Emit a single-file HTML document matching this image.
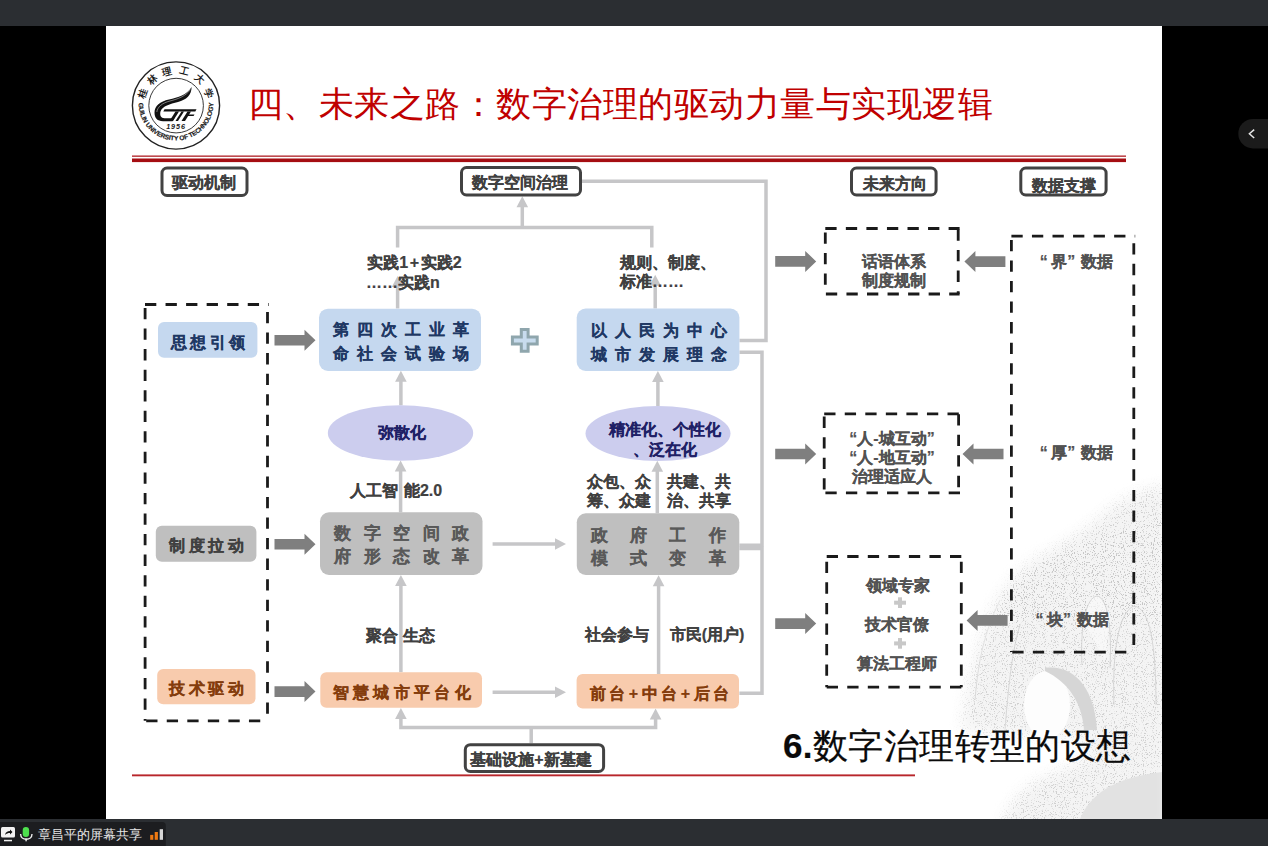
<!DOCTYPE html>
<html><head><meta charset="utf-8">
<style>
html,body{margin:0;padding:0;width:1268px;height:846px;overflow:hidden;background:#000;font-family:"Liberation Sans",sans-serif;}
.a{position:absolute;}
#top{left:0;top:0;width:1268px;height:26px;background:#2b2e32;}
#bot{left:0;top:819px;width:1268px;height:27px;background:#2b2e32;}
#slide{left:106px;top:26px;width:1056px;height:793px;background:#fff;}
svg{position:absolute;left:0;top:0;}
.t{position:absolute;white-space:nowrap;font-weight:bold;}
.q1{margin-right:3.5px}.q2{margin-right:5.5px}
.t{-webkit-text-stroke:0.2px currentColor}
.ttl{-webkit-text-stroke:0}
.bl{position:absolute;left:38px;top:826px;font-size:13px;line-height:18px;color:#e6e6e6;white-space:nowrap}
</style></head><body>
<div class="a" id="top"></div>
<div class="a" id="slide"></div>
<div class="a" id="bot"></div>
<svg width="1268" height="846" viewBox="0 0 1268 846">
  <!-- background sketch -->
  <defs>
    <filter id="spk" x="0" y="0" width="100%" height="100%">
      <feTurbulence type="fractalNoise" baseFrequency="0.9" numOctaves="2" seed="3" result="n"/>
      <feColorMatrix in="n" type="matrix" values="0 0 0 0 0.45  0 0 0 0 0.45  0 0 0 0 0.45  -9 0 0 0 3.8" result="d"/>
      <feComposite in="d" in2="SourceGraphic" operator="in"/>
    </filter>
    <filter id="blr" x="-20%" y="-20%" width="140%" height="140%"><feGaussianBlur stdDeviation="7"/></filter>
    <mask id="rockm" maskUnits="userSpaceOnUse" x="900" y="440" width="300" height="400">
      <g filter="url(#blr)" fill="#fff">
        <path d="M962,730 C966,690 975,650 990,615 C1000,592 1015,572 1040,556 C1065,543 1090,528 1110,508 C1130,495 1150,488 1170,484 L1170,830 L1090,830 L1090,740 C1060,735 1000,736 962,730 Z"/>
        <path d="M1000,830 C1008,800 1030,778 1065,770 C1090,752 1125,745 1170,748 L1170,830 Z"/>
      </g>
    </mask>
  </defs>
  <g id="sketch" mask="url(#rockm)">
    <rect x="940" y="470" width="222" height="349" fill="#f4f4f4"/>
    <rect x="940" y="470" width="222" height="349" fill="#000" filter="url(#spk)" opacity="0.55"/>
    <path d="M1000,600 C1030,560 1080,540 1162,520 L1162,625 C1120,615 1070,612 1000,625 Z" fill="#000" filter="url(#spk)" opacity="0.35"/>
    <path d="M1085,625 C1085,600 1095,590 1103,600 C1110,615 1108,640 1105,660 Z" fill="#fafafa" opacity="0.7"/>
    <g fill="none" stroke="#cfcfcf" stroke-width="1" opacity="0.8">
      <path d="M1082,665 C1080,625 1086,598 1097,596 C1108,598 1112,628 1110,668"/>
      <path d="M1114,705 C1112,655 1118,612 1134,606 C1150,608 1156,645 1156,705"/>
      <path d="M975,700 C978,660 985,630 1000,600"/>
      <path d="M1005,730 C1008,690 1012,650 1020,625"/>
    </g>
    <ellipse cx="1047" cy="705" rx="23" ry="34" fill="#fdfdfd"/>
    <path d="M1045,668 C1075,664 1095,690 1097,730 L1084,730 C1082,702 1068,682 1045,671 Z" fill="#d6d6d6"/>
    <path d="M1080,819 C1090,795 1112,778 1162,772 L1162,819 Z" fill="#e2e2e2"/>
  </g>
  <!-- red double line -->
  <rect x="132" y="155.5" width="994" height="1.3" fill="#b01e24"/>
  <rect x="132" y="158.5" width="994" height="3.6" fill="#a50d12"/>
  <rect x="132" y="774.4" width="783" height="1.9" fill="#b8262b"/>

  <!-- gray connectors -->
  <g stroke="#c6c6c8" stroke-width="3.5" fill="none">
    <polyline points="582,181.3 766,181.3 766,340.4 739.4,340.4"/>
    <polyline points="739.4,352.3 762,352.3 762,545.3 739.4,545.3"/>
    <polyline points="739.4,548.5 762,548.5 762,693.3 739.4,693.3"/>
    <polyline points="397.6,247.5 397.6,227.4 651.8,227.4 651.8,247.6"/>
    <line x1="522.3" y1="227.4" x2="522.3" y2="205"/>
    <line x1="397.6" y1="308.5" x2="397.6" y2="285"/>
    <line x1="655.2" y1="308.5" x2="655.2" y2="284"/>
    <line x1="400.9" y1="405.4" x2="400.9" y2="380"/>
    <line x1="657.9" y1="406" x2="657.9" y2="380"/>
    <line x1="400.6" y1="512.3" x2="400.6" y2="470"/>
    <line x1="657.3" y1="513.3" x2="657.3" y2="470"/>
    <line x1="400.9" y1="672.2" x2="400.9" y2="584"/>
    <line x1="658.6" y1="674" x2="658.6" y2="584"/>
    <line x1="492.6" y1="544" x2="556" y2="544"/>
    <line x1="492.6" y1="692.2" x2="556" y2="692.2"/>
    <polyline points="400.9,718 400.9,727.5 655.6,727.5 655.6,718"/>
    <line x1="531.2" y1="727.5" x2="531.2" y2="743.2"/>
  </g>
  <g fill="#c6c6c8">
    <polygon points="522.3,196.3 516.5,207.3 528.1,207.3"/>
    <polygon points="397.6,276 391.8,287 403.4,287"/>
    <polygon points="655.2,274.8 649.4,285.8 661.0,285.8"/>
    <polygon points="400.9,370.8 395.1,381.8 406.7,381.8"/>
    <polygon points="657.9,371 652.1,382 663.7,382"/>
    <polygon points="400.6,460.5 394.8,471.5 406.4,471.5"/>
    <polygon points="657.3,460.8 651.5,471.8 663.1,471.8"/>
    <polygon points="400.9,575 395.1,586 406.7,586"/>
    <polygon points="658.6,575.2 652.8,586.2 664.4,586.2"/>
    <polygon points="400.9,708 395.1,719 406.7,719"/>
    <polygon points="655.6,708.6 649.8,719.6 661.4,719.6"/>
    <polygon points="566,544 555,538.2 555,549.8"/>
    <polygon points="566,692.2 555,686.4 555,698.0"/>
  </g>
  <!-- block arrows -->
  <g fill="#7f7f7f">
    <path id="ba" d="M0,-5.3 H30 V-10.5 L41,0 L30,10.5 V5.3 H0 Z" transform="translate(274.5,340.3)"/>
    <path d="M0,-5.3 H30 V-10.5 L41,0 L30,10.5 V5.3 H0 Z" transform="translate(274.5,544.3)"/>
    <path d="M0,-5.3 H30 V-10.5 L41,0 L30,10.5 V5.3 H0 Z" transform="translate(274.5,691.6)"/>
    <path d="M0,-5.3 H30 V-10.5 L41,0 L30,10.5 V5.3 H0 Z" transform="translate(775.2,261.4)"/>
    <path d="M0,-5.3 H30 V-10.5 L41,0 L30,10.5 V5.3 H0 Z" transform="translate(775.2,454)"/>
    <path d="M0,-5.3 H30 V-10.5 L41,0 L30,10.5 V5.3 H0 Z" transform="translate(775.2,623.6)"/>
    <path d="M0,-5.3 H30 V-10.5 L41,0 L30,10.5 V5.3 H0 Z" transform="translate(1005.4,261.6) scale(-1,1)"/>
    <path d="M0,-5.3 H30 V-10.5 L41,0 L30,10.5 V5.3 H0 Z" transform="translate(1003.5,454) scale(-1,1)"/>
    <path d="M0,-5.3 H30 V-10.5 L41,0 L30,10.5 V5.3 H0 Z" transform="translate(1007.6,620.4) scale(-1,1)"/>
  </g>
  <!-- dashed boxes -->
  <g stroke="#1a1a1a" stroke-width="2.8" fill="none" stroke-dasharray="11.3 9.25">
    <line x1="145" y1="304.5" x2="268.9" y2="304.5"/>
    <line x1="146.2" y1="720.8" x2="268.9" y2="720.8"/>
    <line x1="145.1" y1="308.0" x2="145.1" y2="720.8"/>
    <line x1="267.5" y1="312.0" x2="267.5" y2="720.8"/>
    <line x1="825.3" y1="228.5" x2="959.6" y2="228.5"/>
    <line x1="825.9" y1="294.0" x2="959.6" y2="294.0"/>
    <line x1="825.3" y1="232.4" x2="825.3" y2="294.0"/>
    <line x1="958.2" y1="229.5" x2="958.2" y2="294.0"/>
    <line x1="824.2" y1="413.8" x2="960.0" y2="413.8"/>
    <line x1="825.4" y1="492.8" x2="960.0" y2="492.8"/>
    <line x1="824.2" y1="416.6" x2="824.2" y2="492.8"/>
    <line x1="958.6" y1="414.2" x2="958.6" y2="492.8"/>
    <line x1="826.7" y1="556.5" x2="962.6999999999999" y2="556.5"/>
    <line x1="826.7" y1="687.2" x2="962.6999999999999" y2="687.2"/>
    <line x1="826.7" y1="561.8" x2="826.7" y2="687.2"/>
    <line x1="961.3" y1="561.8" x2="961.3" y2="687.2"/>
    <line x1="1011.4" y1="236.1" x2="1135.2" y2="236.1"/>
    <line x1="1012.3" y1="652.1" x2="1135.2" y2="652.1"/>
    <line x1="1011.4" y1="239.9" x2="1011.4" y2="652.1"/>
    <line x1="1133.8" y1="243.29999999999998" x2="1133.8" y2="652.1"/>
  </g>
  <!-- filled boxes -->
  <g>
    <rect x="158" y="322" width="99.4" height="35.8" rx="6" fill="#c5d8ef"/>
    <rect x="155.8" y="525.8" width="100.6" height="35.9" rx="6" fill="#bfbfbf"/>
    <rect x="157.2" y="669" width="98.3" height="35.3" rx="6" fill="#f8cbad"/>
    <rect x="319" y="308.7" width="162" height="62.3" rx="9" fill="#c5d8ef"/>
    <rect x="576.7" y="308.5" width="162.7" height="62.5" rx="9" fill="#c5d8ef"/>
    <rect x="320" y="512.3" width="162.5" height="62.7" rx="9" fill="#bfbfbf"/>
    <rect x="576.8" y="513.3" width="162.5" height="61.7" rx="9" fill="#bfbfbf"/>
    <rect x="320.3" y="672.2" width="161.7" height="35.6" rx="6" fill="#f8cbad"/>
    <rect x="576.6" y="674" width="162.4" height="34.6" rx="6" fill="#f8cbad"/>
    <ellipse cx="400.5" cy="433" rx="72.7" ry="27.8" fill="#cccdee"/>
    <ellipse cx="658" cy="433.5" rx="72.5" ry="27.6" fill="#cccdee"/>
  </g>
  <!-- bordered header boxes -->
  <g stroke="#424242" stroke-width="3" fill="#fff">
    <rect x="162" y="168" width="85" height="27.5" rx="5"/>
    <rect x="461.5" y="167.6" width="119" height="27.3" rx="5"/>
    <rect x="851.5" y="168.1" width="84.6" height="26.8" rx="5"/>
    <rect x="1020.8" y="168.1" width="85.3" height="26.8" rx="5"/>
    <rect x="465.3" y="744.7" width="138.3" height="26.8" rx="5"/>
  </g>
  <!-- plus icon -->
  <path d="M521.3,329.5 H528.1 V336.9 H537.2 V343.9 H528.1 V351.3 H521.3 V343.9 H512.4 V336.9 H521.3 Z" fill="#c8dcee" stroke="#8fa6ad" stroke-width="3"/>
  <!-- small plus in box 3 -->
  <g fill="#c8c8c8">
    <rect x="898" y="597.3" width="4" height="10.7"/><rect x="894.1" y="600.7" width="11.9" height="4"/>
    <rect x="898" y="638" width="4" height="10.7"/><rect x="894.1" y="641.4" width="11.9" height="4"/>
  </g>
  <!-- logo -->
  <g id="logo">
    <circle cx="176" cy="105.5" r="43.6" fill="none" stroke="#222" stroke-width="1.4"/>
    <circle cx="176.1" cy="105.6" r="27.3" fill="none" stroke="#222" stroke-width="0.9"/>
    <path d="M191.6,87 C187,95 178,97.5 169,99.5 C160,101.5 154.5,106 154.5,112.5 C154.5,118 157.5,121.2 163,121.2 L172.5,121.2 L174.5,118.2 L164.5,118.2 C160.8,118.2 159.6,115 160.5,111.5 C162.5,106 170,104 178,102 C186.5,99.8 191.5,95 191.6,87 Z" fill="#111"/>
    <path d="M190.5,89.5 C186,96 178,99 170,101 C162,103 157.5,107 156.8,112" fill="none" stroke="#fff" stroke-width="0.45"/>
    <path d="M164.5,109.3 L196.5,109.3 L195.3,111.6 L163.3,111.6 Z" fill="#111"/>
    <path d="M175.5,111.6 L179,111.6 L173,121 L169.5,121 Z" fill="#111"/>
    <path d="M181.5,111.6 L184,111.6 L178,121 L175.5,121 Z" fill="#111"/>
    <path d="M187.5,111.6 L191,111.6 L185,121 L181.5,121 Z" fill="#111"/>
    <path d="M188.5,114.5 L194.5,114.5 L193.6,116 L187.6,116 Z" fill="#111"/>
    <text x="176" y="128.8" text-anchor="middle" font-family="Liberation Sans" font-weight="bold" font-style="italic" font-size="7.2" fill="#1a1a1a" letter-spacing="0.9">1956</text>
    <g font-family="Liberation Sans" font-weight="bold" font-size="6.6" fill="#1a1a1a" stroke="#1a1a1a" stroke-width="0.15" text-anchor="middle">
      <text transform="translate(138.58,105.46) rotate(86.2)">G</text>
      <text transform="translate(139.19,110.16) rotate(79.0)">U</text>
      <text transform="translate(139.92,113.23) rotate(74.2)">I</text>
      <text transform="translate(140.79,115.90) rotate(69.9)">L</text>
      <text transform="translate(141.85,118.50) rotate(65.6)">I</text>
      <text transform="translate(143.28,121.32) rotate(60.8)">N</text>
      <text transform="translate(146.82,126.55) rotate(51.1)">U</text>
      <text transform="translate(149.89,129.92) rotate(44.1)">N</text>
      <text transform="translate(152.25,132.02) rotate(39.3)">I</text>
      <text transform="translate(154.63,133.82) rotate(34.7)">V</text>
      <text transform="translate(158.23,136.02) rotate(28.3)">E</text>
      <text transform="translate(162.21,137.87) rotate(21.6)">R</text>
      <text transform="translate(166.37,139.24) rotate(14.9)">S</text>
      <text transform="translate(169.29,139.89) rotate(10.3)">I</text>
      <text transform="translate(172.07,140.29) rotate(6.0)">T</text>
      <text transform="translate(176.10,140.50) rotate(-0.2)">Y</text>
      <text transform="translate(182.39,139.95) rotate(-9.8)">O</text>
      <text transform="translate(186.67,138.95) rotate(-16.5)">F</text>
      <text transform="translate(191.91,136.96) rotate(-25.1)">T</text>
      <text transform="translate(195.47,135.05) rotate(-31.3)">E</text>
      <text transform="translate(199.08,132.56) rotate(-38.0)">C</text>
      <text transform="translate(202.50,129.53) rotate(-45.0)">H</text>
      <text transform="translate(205.52,126.12) rotate(-51.9)">N</text>
      <text transform="translate(208.20,122.21) rotate(-59.2)">O</text>
      <text transform="translate(210.23,118.32) rotate(-65.9)">L</text>
      <text transform="translate(211.78,114.22) rotate(-72.6)">O</text>
      <text transform="translate(212.94,109.44) rotate(-80.1)">G</text>
      <text transform="translate(213.45,104.91) rotate(-87.1)">Y</text>
    </g>
    <g font-family="Liberation Serif" font-size="9.5" font-weight="bold" fill="#1a1a1a" text-anchor="middle">
      <text transform="translate(176,105.5) rotate(-70) translate(0,-32)">桂</text>
      <text transform="translate(176,105.5) rotate(-42) translate(0,-32)">林</text>
      <text transform="translate(176,105.5) rotate(-14) translate(0,-32)">理</text>
      <text transform="translate(176,105.5) rotate(14) translate(0,-32)">工</text>
      <text transform="translate(176,105.5) rotate(42) translate(0,-32)">大</text>
      <text transform="translate(176,105.5) rotate(70) translate(0,-32)">学</text>
    </g>
  </g>
  <!-- bottom bar widgets -->
  <path d="M0,822 H162.3 A3.5,3.5 0 0 1 165.8,825.5 V846 H0 Z" fill="#1c1d20"/>
  <rect x="1" y="827" width="14" height="10.5" rx="1.5" fill="#f2f2f2"/>
  <rect x="4" y="839.8" width="8" height="1.5" fill="#f2f2f2"/>
  <path d="M5,835 C5.5,832 7.5,831 10,831 L10,829.5 L12.5,832 L10,834.5 L10,833 C8,833 6.5,833.5 5,835 Z" fill="#111"/>
  <rect x="22.7" y="827" width="6.4" height="10" rx="3.2" fill="#4ee04e"/>
  <path d="M20.6,834 C20.6,841 32,841 32,834" fill="none" stroke="#f0f0f0" stroke-width="1.4"/>
  <rect x="25.4" y="838.5" width="1.4" height="2.8" fill="#f0f0f0"/>
  <rect x="150.2" y="834.9" width="3.1" height="4.9" fill="#f07a12"/>
  <rect x="154.7" y="832" width="3.2" height="7.8" fill="#f07a12"/>
  <rect x="159.7" y="829.2" width="3.3" height="10.6" fill="#d6d6d6"/>
  <!-- side button -->
  <path d="M1268,119 H1253 A14.7,14.7 0 0 0 1253,148.4 H1268 Z" fill="#1b1b1b"/>
  <path d="M1254.2,129.6 L1249.4,133.8 L1254.2,138" fill="none" stroke="#e6e6e6" stroke-width="1.5"/>
</svg>
<div class="bl">章昌平的屏幕共享</div>
<div class="t ttl" style="left:247.5px;top:84.5px;font-family:'Liberation Serif',serif;font-weight:normal;font-size:35px;letter-spacing:0.5px;line-height:40px;color:#c00000">四、未来之路：数字治理的驱动力量与实现逻辑</div>
<div id="texts">
<div class="t" style="left:83.5px;top:173.2px;width:240px;text-align:center;font-size:16px;line-height:20px;letter-spacing:0px;color:#404040;">驱动机制</div>
<div class="t" style="left:399.8px;top:173.0px;width:240px;text-align:center;font-size:16px;line-height:20px;letter-spacing:0px;color:#404040;">数字空间治理</div>
<div class="t" style="left:774.5px;top:173.7px;width:240px;text-align:center;font-size:16px;line-height:20px;letter-spacing:0px;color:#404040;">未来方向</div>
<div class="t" style="left:943.8px;top:176.1px;width:240px;text-align:center;font-size:16px;line-height:20px;letter-spacing:0px;color:#404040;">数据支撑</div>
<div class="t" style="left:411.0px;top:750.2px;width:240px;text-align:center;font-size:16px;line-height:20px;letter-spacing:0px;color:#404040;">基础设施+新基建</div>
<div class="t" style="left:89.5px;top:332.8px;width:240px;text-align:center;font-size:16px;line-height:20px;letter-spacing:3.5px;color:#1f3864;">思想引领</div>
<div class="t" style="left:88.0px;top:535.8px;width:240px;text-align:center;font-size:16px;line-height:20px;letter-spacing:3.5px;color:#404040;">制度拉动</div>
<div class="t" style="left:88.3px;top:679.1px;width:240px;text-align:center;font-size:16px;line-height:20px;letter-spacing:3.5px;color:#843c0c;">技术驱动</div>
<div class="t" style="left:284.7px;top:318.1px;width:240px;text-align:center;font-size:16px;line-height:23.7px;letter-spacing:8px;color:#1f3864;">第四次工业革<br>命社会试验场</div>
<div class="t" style="left:542.9px;top:319.2px;width:240px;text-align:center;font-size:16px;line-height:23.7px;letter-spacing:8px;color:#1f3864;">以人民为中心<br>城市发展理念</div>
<div class="t" style="left:287.9px;top:522.1px;width:240px;text-align:center;font-size:17px;line-height:23.3px;letter-spacing:12.5px;color:#595959;">数字空间政<br>府形态改革</div>
<div class="t" style="left:549.4px;top:523.9px;width:240px;text-align:center;font-size:17px;line-height:23px;letter-spacing:22.3px;color:#595959;">政府工作<br>模式变革</div>
<div class="t" style="left:283.8px;top:682.9px;width:240px;text-align:center;font-size:16px;line-height:20px;letter-spacing:4.3px;color:#843c0c;">智慧城市平台化</div>
<div class="t" style="left:541.2px;top:684.0px;width:240px;text-align:center;font-size:16px;line-height:20px;letter-spacing:3.5px;color:#843c0c;">前台+中台+后台</div>
<div class="t" style="left:281.7px;top:423.0px;width:240px;text-align:center;font-size:16px;line-height:20px;letter-spacing:0px;color:#1f1f66;">弥散化</div>
<div class="t" style="left:545.0px;top:419.8px;width:240px;text-align:center;font-size:16px;line-height:19.8px;letter-spacing:0px;color:#1f1f66;">精准化、个性化<br>、泛在化</div>
<div class="t" style="left:294.4px;top:252.8px;width:240px;text-align:center;font-size:16px;line-height:20px;letter-spacing:0px;color:#404040;">实践<span style="letter-spacing:1.6px">1+</span>实践2</div>
<div class="t" style="left:283.0px;top:272.5px;width:240px;text-align:center;font-size:16px;line-height:20px;letter-spacing:0px;color:#404040;">……实践n</div>
<div class="t" style="left:548.4px;top:252.8px;width:240px;text-align:center;font-size:16px;line-height:20px;letter-spacing:0px;color:#404040;">规则、制度、</div>
<div class="t" style="left:532.0px;top:272.1px;width:240px;text-align:center;font-size:16px;line-height:20px;letter-spacing:0px;color:#404040;">标准……</div>
<div class="t" style="left:275.9px;top:480.5px;width:240px;text-align:center;font-size:16px;line-height:20px;letter-spacing:0px;color:#404040;">人工智<span style="margin-left:6.3px"></span>能2.0</div>
<div class="t" style="left:499.0px;top:472.8px;width:240px;text-align:center;font-size:16px;line-height:18.7px;letter-spacing:0px;color:#404040;">众包、众<br>筹、众建</div>
<div class="t" style="left:579.1px;top:473.3px;width:240px;text-align:center;font-size:16px;line-height:18.7px;letter-spacing:0px;color:#404040;">共建、共<br>治、共享</div>
<div class="t" style="left:280.7px;top:625.5px;width:240px;text-align:center;font-size:16px;line-height:20px;letter-spacing:0px;color:#404040;">聚合 生态</div>
<div class="t" style="left:496.9px;top:624.9px;width:240px;text-align:center;font-size:16px;line-height:20px;letter-spacing:0px;color:#404040;">社会参与</div>
<div class="t" style="left:587.1px;top:624.9px;width:240px;text-align:center;font-size:16px;line-height:20px;letter-spacing:0px;color:#404040;">市民(用户)</div>
<div class="t" style="left:774.0px;top:252.0px;width:240px;text-align:center;font-size:16px;line-height:19px;letter-spacing:0px;color:#525252;">话语体系<br>制度规制</div>
<div class="t" style="left:772.0px;top:428.5px;width:240px;text-align:center;font-size:16px;line-height:19.4px;letter-spacing:0px;color:#525252;">“人-城互动”<br>“人-地互动”<br>治理适应人</div>
<div class="t" style="left:777.5px;top:575.7px;width:240px;text-align:center;font-size:16px;line-height:20px;letter-spacing:0px;color:#525252;">领域专家</div>
<div class="t" style="left:776.6px;top:614.8px;width:240px;text-align:center;font-size:16px;line-height:20px;letter-spacing:0px;color:#525252;">技术官僚</div>
<div class="t" style="left:777.2px;top:653.7px;width:240px;text-align:center;font-size:16px;line-height:20px;letter-spacing:0px;color:#525252;">算法工程师</div>
<div class="t" style="left:956.3px;top:251.8px;width:240px;text-align:center;font-size:16px;line-height:20px;letter-spacing:0px;color:#525252;"><span class="q1">“</span>界<span class="q2">”</span>数据</div>
<div class="t" style="left:956.3px;top:443.2px;width:240px;text-align:center;font-size:16px;line-height:20px;letter-spacing:0px;color:#525252;"><span class="q1">“</span>厚<span class="q2">”</span>数据</div>
<div class="t" style="left:952.1px;top:609.8px;width:240px;text-align:center;font-size:16px;line-height:20px;letter-spacing:0px;color:#525252;"><span class="q1">“</span>块<span class="q2">”</span>数据</div>
<div class="t" style="left:783px;top:726px;font-size:35px;letter-spacing:0.4px;line-height:40px;font-weight:normal;color:#0a0a0a"><b>6.</b>数字治理转型的设想</div>
</div>
</body></html>
